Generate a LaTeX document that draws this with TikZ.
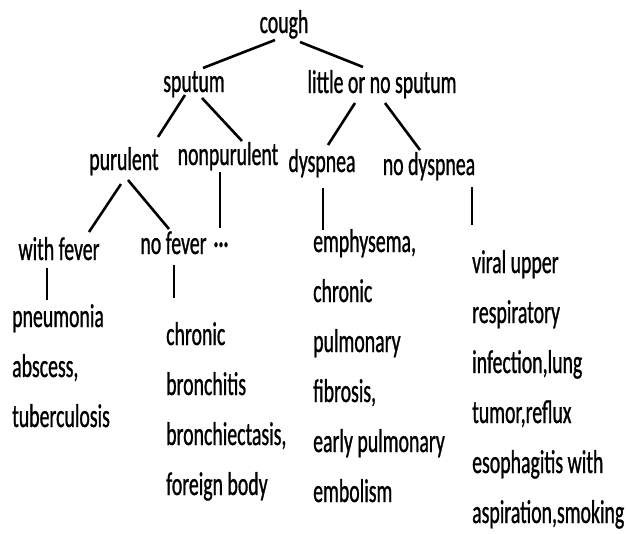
\documentclass[tikz,border=0pt]{standalone}
\usepackage{fontspec}
\setmainfont{Carlito}[FakeStretch=0.6, FakeBold=0.8]
\usepackage{tikz}
\usetikzlibrary{positioning}

\begin{document}
\begin{tikzpicture}[
        x=1pt, y=-1pt,
        every node/.style={font=\fontsize{33}{50}\selectfont, inner sep=0pt},
        lbl/.style={anchor=base},
        lst/.style={anchor=base west, align=left},
        edge/.style={line width=2.6pt}
    ]
        \useasboundingbox (0,0) rectangle (626,533);

        % Nodes
        \node[lbl] (cough) at (284,33) {cough};
        \node[lbl] (sputum) at (194,92) {sputum};
        \node[lbl] (little) at (382,93) {little or no sputum};
        \node[lbl] (purulent) at (124,170) {purulent};
        \node[lbl] (nonpurulent) at (228,165) {nonpurulent};
        \node[lbl] (dyspnea) at (322,172) {dyspnea};
        \node[lbl] (nodyspnea) at (429,175) {no dyspnea};
        \node[lbl] (withfever) at (59,260) {with fever};
        \node[lbl] (nofever) at (173.5,254) {no fever};
        \node[lbl] (dots) at (221,254) {···};

        % Lists (placed at the baseline of their last line)
        \node[lst] (fevlist) at (12,427) {pneumonia\\abscess,\\tuberculosis};
        \node[lst] (nofevlist) at (166,495) {chronic\\bronchitis\\bronchiectasis,\\foreign body};
        \node[lst] (dyslist) at (313,502) {emphysema,\\chronic\\pulmonary\\fibrosis,\\early pulmonary\\embolism};
        \node[lst] (nodyslist) at (472,523) {viral upper\\respiratory\\infection,lung\\tumor,reflux\\esophagitis with\\aspiration,smoking};

        % Lines
        \draw[edge] ([shift={(-9,7)}]cough.base) -- ([shift={(9,-24)}]sputum.base);
        \draw[edge] ([shift={(16,9)}]cough.base) -- ([shift={(-19,-26)}]little.base);
        \draw[edge] ([shift={(-9,3)}]sputum.base) -- ([shift={(34,-33)}]purulent.base);
        \draw[edge] ([shift={(8,6)}]sputum.base) -- ([shift={(14,-24)}]nonpurulent.base);
        \draw[edge] ([shift={(-27,10)}]little.base) -- ([shift={(6,-27)}]dyspnea.base);
        \draw[edge] ([shift={(3,10)}]little.base) -- ([shift={(-9,-25)}]nodyspnea.base);
        \draw[edge] ([shift={(-3,14)}]purulent.base) -- ([shift={(30,-28)}]withfever.base);
        \draw[edge] ([shift={(4,10)}]purulent.base) -- ([shift={(-4.5,-25)}]nofever.base);
        \draw[edge] ([shift={(-8,7)}]nonpurulent.base) -- ([shift={(-1,-26)}]dots.base);
        \draw[edge] ([shift={(-12,8)}]withfever.base) -- ([shift={(35,-127)}]fevlist.base west);
        \draw[edge] ([shift={(0.5,11)}]nofever.base) -- ([shift={(8,-197)}]nofevlist.base west);
        \draw[edge] ([shift={(1,16)}]dyspnea.base) -- ([shift={(10,-272)}]dyslist.base west);
        \draw[edge] ([shift={(43,12)}]nodyspnea.base) -- ([shift={(0,-298)}]nodyslist.base west);
    \end{tikzpicture}
\end{document}
